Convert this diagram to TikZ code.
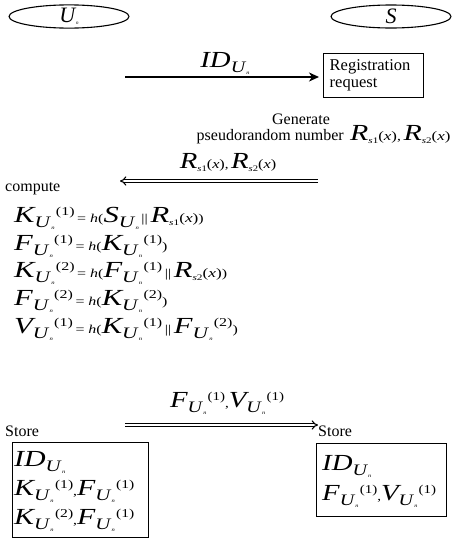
\documentclass[tikz,border=0pt]{standalone}
\usepackage{fontspec}
\usepackage{graphicx}
\setmainfont{Liberation Serif}
\usetikzlibrary{shapes.geometric,arrows.meta}

% big italic symbol
\newcommand\Lg[1]{{\fontsize{23}{23}\selectfont\itshape #1}}
% subscript U_n
\newcommand\Us{\raisebox{-5pt}{\fontsize{16}{16}\selectfont\itshape U\kern1pt\raisebox{-2pt}{\fontsize{5}{5}\selectfont n}}}
% superscript index
\newcommand\Sp[1]{\kern1pt\raisebox{6.5pt}{\fontsize{12}{12}\selectfont(#1)}}
% small text
\newcommand\Sm[1]{{\fontsize{12}{12}\selectfont #1}}
% subscript s1 / s2
\newcommand\Rs[1]{\raisebox{-3pt}{\fontsize{8.5}{8.5}\selectfont\textit{s}#1}}
\newcommand\Rx[1]{\Lg{R}\Rs{#1}{\fontsize{13}{13}\selectfont(\textit{x})}}
% formulas are set a little wider than their natural shape
\newcommand\M[2][1.25]{\scalebox{#1}[1]{#2}}

\tikzset{
  party/.style={ellipse,draw,line width=1.1pt,minimum width=120pt,minimum height=23pt,inner sep=0pt},
  plain/.style={inner sep=0pt,font=\fontsize{16}{18}\selectfont},
  boxed/.style={draw,line width=1.4pt,inner sep=0pt,align=left,
    minimum width=100pt,minimum height=44pt,text width=88pt,font=\fontsize{16.5}{17}\selectfont},
  msg/.style={line width=1.6pt,-{Stealth[length=10pt,width=9pt,inset=3pt]}},
  dmsg/.style={double,line width=1.1pt,double distance=2pt,-{Implies[length=6pt]}},
  eq/.style={inner sep=0pt,anchor=base west},
  store/.style={draw,line width=1.3pt},
}

\begin{document}
\begin{tikzpicture}[x=1pt,y=1pt]
\useasboundingbox (0,0) rectangle (453,-541);

% parties
\node[party] (U) at (69,-16.5) {\fontsize{22}{22}\selectfont\itshape U\kern1pt\raisebox{-2pt}{\fontsize{5}{5}\selectfont n}};
\node[party] (S) at (391,-16.5) {\fontsize{22}{22}\selectfont\itshape S};

% registration request
\node[boxed,anchor=north west] (req) at (323,-53) {Registration\\request};
\coordinate (a1) at (125,-77);
\draw[msg] (a1) -- ([xshift=-4pt]req.west |- a1);
\node[eq,anchor=base] (id) at (225,-67) {\M{\Lg{ID}\Us}};

% server side generation
\node[plain,anchor=base] (gen) at (301,-124) {Generate};
\node[plain,anchor=base east] (pn) at (344,-140) {pseudorandom number};
\node[eq] (rr) at (350,-140) {\M[1.3]{\Rx{1}\Sm{,\,}\Rx{2}}};

% reply
\coordinate (b1) at (318,-181);
\coordinate (b2) at (120,-181);
\draw[dmsg] (b1) -- (b2);
\node[eq,anchor=base] (rl) at (228,-168) {\M{\Rx{1}\Sm{,\,}\Rx{2}}};

% user computations
\node[plain,anchor=base west] (cmp) at (5,-191) {compute};
\node[eq] (e1) at (14,-222) {\M[1.33]{\Lg{K}\Us\Sp{1}\Sm{\,= \textit{h}(}\Lg{S}\Us\Sm{\,||\,}\Rx{1}\Sm{)}}};
\node[eq] (e2) at (14,-250) {\M[1.33]{\Lg{F}\Us\Sp{1}\Sm{\,= \textit{h}(}\Lg{K}\Us\Sp{1}\Sm{)}}};
\node[eq] (e3) at (14,-277) {\M[1.33]{\Lg{K}\Us\Sp{2}\Sm{\,= \textit{h}(}\Lg{F}\Us\Sp{1}\Sm{\,||\,}\Rx{2}\Sm{)}}};
\node[eq] (e4) at (14,-305) {\M[1.33]{\Lg{F}\Us\Sp{2}\Sm{\,= \textit{h}(}\Lg{K}\Us\Sp{2}\Sm{)}}};
\node[eq] (e5) at (14,-333) {\M[1.33]{\Lg{V}\Us\Sp{1}\Sm{\,= \textit{h}(}\Lg{K}\Us\Sp{1}\Sm{\,||\,}\Lg{F}\Us\Sp{2}\Sm{)}}};

% final message and storage
\coordinate (c1) at (125,-425);
\coordinate (c2) at (318,-425);
\draw[dmsg] (c1) -- (c2);
\node[eq,anchor=base] (fl) at (227,-407) {\M{\Lg{F}\Us\Sp{1}\Sm{,}\Lg{V}\Us\Sp{1}}};
\node[plain,anchor=base west] (st1) at (5,-436) {Store};
\node[plain,anchor=base west] (st2) at (318,-436) {Store};

\node[store,minimum width=136pt,minimum height=95pt,anchor=north west] (bl) at (12,-442) {};
\node[eq] (l1) at (14,-466) {\M[1.3]{\Lg{ID}\Us}};
\node[eq] (l2) at (14,-495) {\M[1.3]{\Lg{K}\Us\Sp{1}\Sm{,}\Lg{F}\Us\Sp{1}}};
\node[eq] (l3) at (14,-524) {\M[1.3]{\Lg{K}\Us\Sp{2}\Sm{,}\Lg{F}\Us\Sp{1}}};

\node[store,minimum width=130pt,minimum height=73pt,anchor=north west] (br) at (316,-443) {};
\node[eq] (r1) at (322,-470) {\M{\Lg{ID}\Us}};
\node[eq] (r2) at (322,-500) {\M{\Lg{F}\Us\Sp{1}\Sm{,}\Lg{V}\Us\Sp{1}}};
\end{tikzpicture}
\end{document}
